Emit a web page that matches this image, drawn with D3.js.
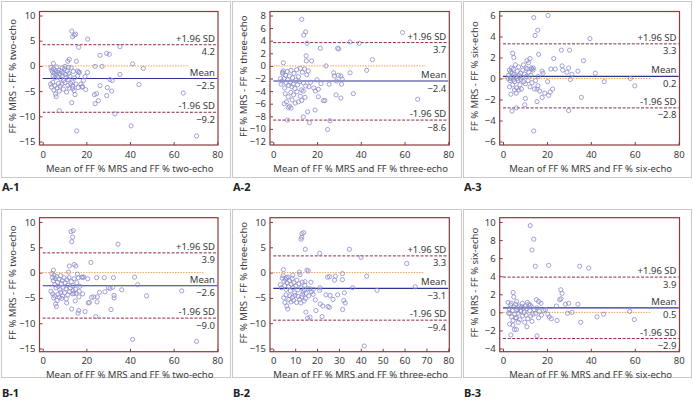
<!DOCTYPE html>
<html><head><meta charset="utf-8">
<script src="https://cdn.jsdelivr.net/npm/d3@7"></script>
<style>
html,body{margin:0;padding:0;background:#fff;}
svg{display:block;font-family:"Noto Sans",sans-serif;}
</style></head>
<body>
<svg id="c" width="693" height="401"></svg>
<script>
// ---------- DATA ----------
const panelLabels = ["A-1","A-2","A-3","B-1","B-2","B-3"];
const methods = ["two-echo","three-echo","six-echo","two-echo","three-echo","six-echo"];
const upperSD = [4.2, 3.7, 3.3, 3.9, 3.3, 3.9];
const meanDiff = [-2.5, -2.4, 0.2, -2.6, -3.1, 0.5];
const lowerSD = [-9.2, -8.6, -2.8, -9.0, -9.4, -2.9];
const zeroLineEnd = [67, 69.5, 67.5, 74, 68.7, 67.5];
const xTicksWide = [0, 20, 40, 60, 80];
const xTicksB2 = [0, 10, 20, 30, 40, 50, 60, 70, 80];
const yTicksA1 = [10, 5, 0, -5, -10, -15];
const yTicksA2 = [8, 6, 4, 2, 0, -2, -4, -6, -8, -10, -12];
const yTicksA3 = [6, 4, 2, 0, -2, -4, -6];
const yTicksB1 = [10, 5, 0, -5, -10, -15];
const yTicksB2 = [10, 5, 0, -5, -10, -15];
const yTicksB3 = [10, 8, 6, 4, 2, 0, -2, -4];

const ptsA1 = [[13.3,6.9],[14.5,6.1],[15.1,6.3],[13.7,5.8],[20.6,5.3],[16.5,3.7],[35.4,3.8],[26.3,2.1],[29.3,2.5],[30.5,2.3],
[15.4,0.9],[12.2,1.3],[11.5,0.9],[4.9,0.5],[41.2,0.4],[46.1,-0.5],[24,-0.1],[27.2,-0.1],[10.2,-0.1],
[20.5,-1.3],[19.4,-2.1],[15.9,-1],[16.5,-1.2],[18.6,-2.9],[19.7,-4.7],[18.3,-4.1],[16.3,-4.3],[14.4,-4.9],[14.8,-5.7],[13.7,-4.5],
[13.3,-7.3],[7.6,-8.9],[15.6,-12.9],[23.7,-5.7],[24.7,-5.5],[24,-7.5],[25.5,-6.9],[29.3,-5.9],[29.6,-4.3],[31.6,-5],[30.8,-2.7],[31.8,-2.9],
[35.4,-1.7],[33.1,-9.5],[40.5,-11.9],[44.1,-3.7],[64.4,-5.4],[70.5,-13.9],[26.3,-3.9],
[3.8,-0.3],[4.2,-0.8],[4.5,-1.2],[5.0,-0.6],[5.3,-1.5],[4.8,-2.0],[5.5,-2.4],[6.0,-1.0],[6.3,-1.8],[6.8,-1.3],[7.0,-2.2],[7.4,-0.9],
[7.8,-1.6],[8.2,-2.6],[8.5,-1.1],[8.9,-2.0],[9.3,-1.4],[9.6,-2.9],[10.0,-0.6],[10.4,-1.7],[10.8,-2.3],[11.2,-1.0],[11.6,-2.7],[12.0,-1.5],
[12.5,-2.0],[13.0,-0.4],[13.5,-3.2],[14.0,-1.1],[14.6,-2.4],[15.2,-3.6],[3.6,-3.6],[4.0,-4.2],[4.6,-3.3],[5.1,-4.8],[5.6,-3.9],[5.9,-5.6],
[6.2,-6.1],[6.6,-4.4],[7.2,-3.5],[7.6,-5.0],[8.0,-4.0],[8.8,-3.6],[9.5,-4.6],[10.2,-3.3],[10.9,-5.2],[11.5,-3.9],[12.2,-4.4],[12.8,-3.5],
[13.8,-4.0],[16.0,-2.0],[17.5,-3.6],[18.0,-4.2],[9.0,-0.4],[6.5,-0.2],[11.8,-0.3],[16.8,-1.3]];

const ptsA2 = [[13.0,7.4],[14.8,5.4],[13.9,4.9],[15.4,3.6],[21.5,2.8],[29.4,2.8],[29.9,2.7],[35.1,3.8],[39.3,3.6],[59.1,5.3],
[45.3,1.0],[15,1.6],[15.1,0.8],[17.5,0.8],[4.6,0.5],[24.1,0],[42.7,-0.7],[35.1,-1.1],[27.6,-1.1],[27.9,-1.6],[29.7,-1.5],[30.9,-1.6],
[31.5,-2.1],[28.9,-2.4],[31.2,-2.9],[25.5,-2.9],[36.6,-4.4],[30.9,-5.1],[28.7,-4.6],[22.9,-5.5],[23.6,-5.5],[20.6,-3.7],[20,-2.2],[21.8,-2.8],
[20.6,-4.9],[19.1,-7],[15.7,-7.3],[16.5,-9],[13.7,-8.1],[24.8,-10.1],[25.9,-8.7],[66,-5.3],[8.1,-6.7],[6.9,-6.6],[6.5,-8.6],
[3.5,-2.9],[4.0,-2.4],[4.3,-1.2],[4.6,-0.8],[5.0,-2.0],[5.2,-3.5],[5.6,-1.5],[5.9,-2.7],[6.3,-0.9],[6.6,-2.2],[7.0,-3.1],[7.3,-1.6],
[7.7,-2.6],[8.1,-0.7],[8.4,-3.3],[8.8,-1.9],[9.1,-2.9],[9.5,-1.2],[9.9,-3.6],[10.2,-2.3],[10.7,-0.6],[11.1,-3.0],[11.5,-1.7],[12.0,-2.5],
[12.4,-0.4],[12.9,-3.8],[13.3,-1.0],[13.8,-2.7],[14.3,-0.5],[14.8,-3.2],[15.3,-1.4],[16.0,-0.8],[5.5,-4.4],[6.0,-5.7],[6.8,-4.9],[7.4,-6.4],
[8.0,-4.2],[8.6,-5.4],[9.3,-4.6],[10.0,-5.9],[10.8,-4.1],[11.5,-5.7],[12.3,-4.8],[13.0,-5.5],[13.7,-4.0],[14.5,-5.0],[16.3,-3.3],[17.0,-2.6],
[18.5,-3.5],[19.2,-4.0],[5.0,-6.0],[4.2,-1.0],[3.3,-2.0]];

const ptsA3 = [[14.0,5.8],[20.5,6.0],[15.8,4.6],[14.6,4.1],[39.6,3.8],[16.2,2.3],[26.6,2.7],[30.3,2.7],[23.1,1.9],[4.4,2.4],[4.9,2.0],
[36.6,1.7],[26.9,1.2],[27.2,0.8],[29.9,1.0],[23.8,0.9],[29.1,0.6],[31.4,0.4],[34.1,0.7],[42,0.5],[30.7,-0.1],[46.1,-0.3],[58,0.0],[60,-0.7],
[35.7,-1.8],[29.9,-3.05],[14,-5.0],[15.5,-2.2],[4.1,-3.1],[6.1,-2.8],[9.9,-2.5],[10.2,-1.9],[22.6,-1.0],[21.5,-1.3],[20.8,-1.6],[19,-1.4],
[17.8,-1.8],[16.7,-1.2],[15.9,-0.7],[20.3,-0.3],[18.2,0.5],[17.8,0.7],[21.8,0.9],[12.3,1.9],[10.9,1.7],[13.2,0.9],[13.8,1.0],
[2.5,0.3],[2.9,0.8],[3.2,-0.2],[3.5,0.6],[3.8,1.0],[4.1,0.1],[4.4,-0.6],[4.7,0.9],[5.0,0.4],[5.3,-0.3],[5.6,1.3],[5.9,0.2],[6.2,-0.9],
[6.5,0.7],[6.8,-0.2],[7.1,1.1],[7.4,0.3],[7.7,-0.6],[8.0,0.5],[8.4,-1.0],[8.7,0.1],[9.0,0.8],[9.4,-0.3],[9.8,0.4],[10.2,-0.5],[10.6,0.2],
[11.0,0.9],[11.4,-0.2],[11.8,0.6],[12.3,-0.8],[12.7,0.3],[13.2,-0.4],[13.7,0.8],[14.3,-1.0],[3.0,-0.8],[3.6,-1.5],[4.2,0.5],[5.2,-1.1],
[6.0,-1.4],[7.2,-1.1],[8.2,-0.1],[9.3,1.3],[10.5,1.0],[11.6,1.5],[12.9,1.0],[2.2,0.0],[3.3,0.0],[4.8,-0.1],[6.4,0.0],[14.8,-0.2],[15.5,-1.0],[16.0,0.2]];

const ptsB1 = [[13,8.1],[14,8.3],[13.7,7.0],[13.3,6.1],[34.5,5.6],[22.1,2.0],[12.2,1.3],[14.4,1.6],[15.2,1.3],[4.9,0.5],[11.8,0.1],[15.9,-0.3],
[20.6,-1.2],[17.9,-0.9],[18.8,-0.9],[24.7,-1.0],[28.2,-1.0],[32.4,-1.0],[42.1,-0.9],[43.5,-2.4],[32.1,-2.9],[30.1,-3.0],[30.9,-3.1],[36.2,-3.4],
[26,-3.9],[22.4,-4.9],[23.4,-4.8],[25.0,-4.8],[28.5,-3.8],[32.7,-4.5],[32.7,-5.0],[24.9,-5.8],[20.9,-6.0],[21.4,-5.9],[16.6,-4.8],[18.3,-4.2],
[47.6,-4.6],[31.3,-7.3],[19.4,-7.7],[16.2,-8.0],[16.5,-7.5],[13.3,-7.2],[24.3,-8.7],[41.2,-13.2],[63.7,-3.6],[70.5,-13.6],[11,-6.0],[13.7,-4.2],[14.3,-4.1],[8.7,-5.1],
[3.8,-3.7],[4.2,-0.2],[4.5,-1.0],[4.9,-1.6],[5.2,-0.5],[5.5,-2.4],[5.8,-1.2],[6.1,-3.0],[6.4,-0.8],[6.8,-1.9],[7.1,-2.7],[7.5,-1.3],
[7.9,-3.4],[8.2,-0.6],[8.6,-2.2],[9.0,-1.6],[9.4,-2.9],[9.8,-1.0],[10.2,-2.0],[10.7,-3.2],[11.1,-1.4],[11.6,-2.5],[12.1,-1.0],[12.6,-3.0],
[13.1,-1.8],[13.7,-2.6],[14.4,-1.2],[15.0,-3.3],[15.6,-2.0],[16.3,-1.0],[17.0,-2.7],[4.6,-4.2],[5.0,-5.0],[5.4,-4.6],[5.9,-6.2],[6.3,-6.7],
[6.6,-5.5],[7.0,-4.3],[7.6,-4.9],[8.3,-3.9],[9.1,-4.6],[10.0,-4.0],[10.8,-5.2],[11.5,-4.4],[12.3,-3.8],[13.9,-3.6],[15.3,-4.1],[16.7,-3.7],[18.4,-0.9],[14.9,-5.6]];

const ptsB2 = [[13.1,7.7],[13.9,7.9],[13,7.0],[12.7,6.6],[14.6,4.6],[21.2,3.8],[34.8,4.6],[40.1,3.0],[61,1.8],[64.9,-2.8],[47.4,-3.5],[42.7,-0.7],
[36.3,-3.0],[31.6,-0.2],[31.6,-1.4],[28.4,-0.7],[28,-1.5],[24.8,-0.9],[25.7,-0.8],[21.3,-3.0],[21.2,-3.5],[32.5,-4.0],[29.4,-4.4],[25.9,-4.5],[24.1,-4.4],
[32.2,-5.5],[32.9,-6.0],[27.3,-5.3],[25,-6.7],[25.6,-6.9],[21.5,-6.2],[22.6,-6.6],[22.3,-8.7],[19.5,-7.5],[31.7,-7.3],[14.9,-7.8],[15.7,-9.0],[16.8,-8.8],
[19.2,-5.4],[41.6,-14.5],[15.4,0.5],[16.0,0.3],[11.9,0.1],[4.6,0.6],[14.5,-1.8],[17.2,-1.9],[16.8,-3.2],[18.3,-3.3],[14.2,-3.4],[13.1,-4.8],
[3.2,-2.4],[3.7,-3.0],[4.1,-1.1],[4.5,-0.6],[4.9,-1.7],[5.2,-2.6],[5.6,-1.3],[5.9,-3.3],[6.3,-2.0],[6.7,-0.9],[7.0,-2.8],[7.4,-1.6],
[7.8,-3.6],[8.2,-2.3],[8.6,-1.2],[9.0,-3.0],[9.4,-2.0],[9.8,-4.0],[10.3,-2.6],[10.8,-1.5],[11.2,-3.4],[11.7,-2.2],[12.2,-0.4],[12.7,-3.0],
[13.2,-1.9],[13.7,-3.8],[14.4,-2.5],[15.0,-4.1],[15.8,-3.2],[4.8,-5.0],[5.3,-5.9],[5.8,-4.4],[6.2,-6.6],[6.6,-7.2],[7.1,-5.3],[7.6,-4.6],
[8.1,-5.8],[8.7,-4.9],[9.3,-5.5],[9.9,-4.5],[10.6,-5.9],[11.3,-4.7],[12.0,-5.3],[12.6,-6.0],[13.4,-4.3],[14.1,-5.6],[14.7,-5.1],[16.2,-4.6],
[17.5,-3.8],[18.2,-4.3],[6.0,-1.0],[8.9,-0.5]];

const ptsB3 = [[12.4,9.6],[14,8.1],[13.2,6.9],[14.7,5.1],[20.8,5.2],[34.9,5.1],[39,4.9],[4.6,2.2],[4.9,1.7],[26.3,2.5],[26.9,2.1],[26.4,1.5],
[25.8,1.4],[28.4,0.9],[29.9,1.0],[29.4,-0.1],[31.4,0.0],[34.1,0.9],[42.8,-0.5],[45.8,-0.2],[35.4,-1.1],[57.7,0.1],[59.8,-0.8],[24.3,0.7],[24.6,-0.9],
[15.2,1.4],[16.2,1.2],[17.3,1.0],[19.3,0.3],[21.1,-0.5],[22,-0.7],[20.4,-0.2],[15.5,-2.6],[3.6,-2.5],[5.2,-1.9],[6.1,-1.9],[10.9,-1.6],[13.2,-1.0],[16.2,-0.6],
[2.3,1.1],[2.8,0.4],[3.2,-0.1],[3.5,0.8],[3.9,-0.5],[4.3,0.2],[4.6,-0.9],[5.0,0.6],[5.4,-0.2],[5.8,0.9],[6.1,-0.6],[6.5,0.3],[6.9,-0.1],
[7.3,0.7],[7.7,-0.8],[8.1,0.1],[8.5,0.6],[8.9,-0.4],[9.3,0.5],[9.7,0.0],[10.1,0.7],[10.5,-0.3],[10.9,0.4],[11.3,-0.7],[11.7,0.9],[12.1,0.2],
[12.6,-0.4],[13.1,0.6],[13.6,-0.2],[14.2,0.3],[14.8,-0.1],[15.4,0.5],[16.5,0.1],[17.5,-0.3],[18.5,0.2],[3.0,-1.3],[4.5,-1.4],[5.6,-0.6],
[7.0,-1.1],[8.8,1.0],[9.9,-1.1],[11.1,1.1],[12.4,0.8],[2.6,-0.1],[3.8,1.0],[6.2,1.2],[7.9,0.2],[6.8,0.5]];

const allPts = [ptsA1, ptsA2, ptsA3, ptsB1, ptsB2, ptsB3];
const allYTicks = [yTicksA1, yTicksA2, yTicksA3, yTicksB1, yTicksB2, yTicksB3];

// ---------- LAYOUT ----------
const cols = [
  {boxL:1, boxR:230, frameL:39.5, x0:42.7, x80:217.3, frameR:218},
  {boxL:232, boxR:461, frameL:270, x0:273.3, x80:448.3, frameR:449.3},
  {boxL:463, boxR:691, frameL:499.7, x0:503, x80:678.7, frameR:679.5}
];
const rows = [
  {boxT:1, boxB:177, frameT:11.5, frameB:145, tickT:15.5, tickB:141.5, labY:191},
  {boxT:209, boxB:377, frameT:217.7, frameB:351.7, tickT:222, tickB:348.5, labY:397}
];

const svg = d3.select("#c");
const frameColor = "#8a3b3b";
const textColor = "#3a3a3a";

for (let i = 0; i < 6; i++) {
  const c = cols[i % 3], r = rows[Math.floor(i / 3)];
  const yt = allYTicks[i];
  const x = d3.scaleLinear().domain([0, 80]).range([c.x0, c.x80]);
  const y = d3.scaleLinear().domain([d3.min(yt), d3.max(yt)]).range([r.tickB, r.tickT]);
  const g = svg.append("g");

  // panel border
  g.append("rect").attr("x", c.boxL + 0.5).attr("y", r.boxT + 0.5)
    .attr("width", c.boxR - c.boxL).attr("height", r.boxB - r.boxT)
    .attr("fill", "#fff").attr("stroke", "#c9c9c9").attr("stroke-width", 1);

  // panel label
  g.append("text").attr("x", c.boxL + 1).attr("y", r.labY)
    .attr("font-size", 11).attr("font-weight", "bold").attr("fill", "#222")
    .text(panelLabels[i]);

  // axes (inward ticks)
  const xt = (i === 4) ? xTicksB2 : xTicksWide;
  const xAxis = d3.axisBottom(x).tickValues(xt).tickSize(-3).tickPadding(0).tickFormat(d3.format("d"));
  const gx = g.append("g").attr("transform", `translate(0,${r.frameB})`).call(xAxis);
  gx.select(".domain").remove();
  gx.selectAll(".tick line").attr("stroke", frameColor);
  gx.selectAll(".tick text").attr("y", 6).attr("dy", "0.71em").attr("font-size", 9.5)
    .attr("font-family", "Noto Sans").attr("fill", textColor);

  const yAxis = d3.axisLeft(y).tickValues(yt).tickSize(-3).tickPadding(0).tickFormat(d3.format("d"));
  const gy = g.append("g").attr("transform", `translate(${c.frameL},0)`).call(yAxis);
  gy.select(".domain").remove();
  gy.selectAll(".tick line").attr("stroke", frameColor);
  gy.selectAll(".tick text").attr("x", -4).attr("font-size", 9.5)
    .attr("font-family", "Noto Sans").attr("fill", textColor);

  // frame
  g.append("rect").attr("x", c.frameL).attr("y", r.frameT)
    .attr("width", c.frameR - c.frameL).attr("height", r.frameB - r.frameT)
    .attr("fill", "none").attr("stroke", frameColor).attr("stroke-width", 1.2);

  // reference lines
  g.append("line").attr("x1", x(0)).attr("x2", x(zeroLineEnd[i]))
    .attr("y1", y(0)).attr("y2", y(0))
    .attr("stroke", "#eca24a").attr("stroke-width", 1).attr("stroke-dasharray", "1.5,1.2");
  [upperSD[i], lowerSD[i]].forEach(v => {
    g.append("line").attr("x1", x(0)).attr("x2", x(80))
      .attr("y1", y(v)).attr("y2", y(v))
      .attr("stroke", "#8c2a48").attr("stroke-width", 1).attr("stroke-dasharray", "3,1.6");
  });
  g.append("line").attr("x1", x(0)).attr("x2", x(80))
    .attr("y1", y(meanDiff[i])).attr("y2", y(meanDiff[i]))
    .attr("stroke", "#2e3590").attr("stroke-width", 1.2);

  // points
  g.append("g").selectAll("circle").data(allPts[i]).join("circle")
    .attr("cx", d => x(d[0])).attr("cy", d => y(d[1])).attr("r", 2.1)
    .attr("fill", "none").attr("stroke", "#8a8ccc").attr("stroke-width", 0.8);

  // labels on lines
  const lx = c.frameR - 3;
  const lab = (yy, t) => g.append("text").attr("x", lx).attr("y", yy)
    .attr("text-anchor", "end").attr("font-size", 9.5).attr("fill", textColor).text(t);
  const fmt = d3.format(".1f");
  lab(y(upperSD[i]) - 3, "+1.96 SD");
  lab(y(upperSD[i]) + 10.5, fmt(upperSD[i]));
  lab(y(meanDiff[i]) - 3, "Mean");
  lab(y(meanDiff[i]) + 10.5, fmt(meanDiff[i]).replace("-", "-"));
  lab(y(lowerSD[i]) - 3, "-1.96 SD");
  lab(y(lowerSD[i]) + 10.5, fmt(lowerSD[i]));

  // axis titles
  g.append("text").attr("x", (c.frameL + c.frameR) / 2 + 1).attr("y", r.frameB + 26.5)
    .attr("text-anchor", "middle").attr("font-size", 9.5).attr("fill", textColor)
    .text(`Mean of FF % MRS and FF % ${methods[i]}`);
  const cy = (r.frameT + r.frameB) / 2 - 2;
  g.append("text").attr("transform", `translate(${c.boxL + 15},${cy}) rotate(-90)`)
    .attr("text-anchor", "middle").attr("font-size", 9.5).attr("fill", textColor)
    .text(`FF % MRS - FF % ${methods[i]}`);
}
</script>
</body></html>
